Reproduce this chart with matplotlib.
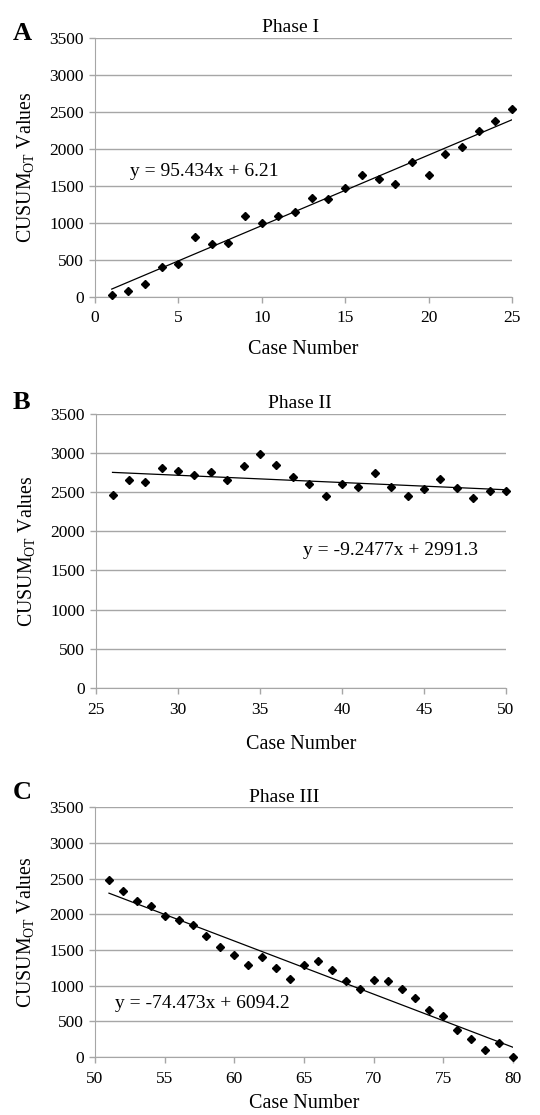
"""
Phase I/II/III CUSUM_OT learning curve, three stacked panels with linear trendlines.
"""

import matplotlib
matplotlib.use("Agg")
import matplotlib.pyplot as plt
import numpy as np

plt.rcParams["font.family"] = ["Liberation Serif", "DejaVu Serif"]
plt.rcParams["mathtext.fontset"] = "custom"
plt.rcParams["mathtext.rm"] = "Liberation Serif"

GRID_GRAY = "#a6a6a6"
Y_TICKS = [0, 500, 1000, 1500, 2000, 2500, 3000, 3500]

# Phase I
cases_1 = list(range(1, 26))
cusum_1 = [23, 81, 172, 406, 438, 804, 709, 727, 1084, 994, 1088, 1143, 1337,
           1319, 1468, 1639, 1585, 1526, 1815, 1644, 1928, 2019, 2244, 2380, 2543]
fit_1 = (95.434, 6.21)
eq_1 = "y = 95.434x + 6.21"

# Phase II
cases_2 = list(range(26, 51))
cusum_2 = [2467, 2650, 2633, 2813, 2766, 2714, 2753, 2655, 2838, 2983, 2842,
           2689, 2603, 2446, 2608, 2565, 2740, 2565, 2446, 2540, 2667, 2548,
           2429, 2510, 2518]
fit_2 = (-9.2477, 2991.3)
eq_2 = "y = -9.2477x + 2991.3"

# Phase III
cases_3 = list(range(51, 81))
cusum_3 = [2474, 2326, 2187, 2113, 1974, 1919, 1854, 1697, 1540, 1429, 1290,
           1401, 1253, 1087, 1290, 1346, 1216, 1068, 957, 1077, 1068, 948, 832,
           652, 569, 384, 254, 102, 190, 0]
fit_3 = (-74.473, 6094.2)
eq_3 = "y = -74.473x + 6094.2"

# letter, title, data, fit, equation, x range/ticks, equation anchor (data),
# axes rect, title x (axes frac), letter y (fig frac), xlabel pad
panels = [
    ("A", "Phase I", cases_1, cusum_1, fit_1, eq_1, (0, 25), [0, 5, 10, 15, 20, 25],
     (2.1, 1690), [0.176, 0.734, 0.772, 0.232], 0.47, 0.970, 10),
    ("B", "Phase II", cases_2, cusum_2, fit_2, eq_2, (25, 50), [25, 30, 35, 40, 45, 50],
     (37.6, 1750), [0.178, 0.383, 0.759, 0.246], 0.498, 0.6386, 12),
    ("C", "Phase III", cases_3, cusum_3, fit_3, eq_3, (50, 80), [50, 55, 60, 65, 70, 75, 80],
     (51.4, 750), [0.176, 0.052, 0.774, 0.224], 0.452, 0.2888, 5),
]

fig = plt.figure(figsize=(5.4, 11.15), dpi=100)
fig.patch.set_facecolor("white")

for (letter, title, xs, ys, (slope, icpt), eq, xlim, xticks, eq_pos, rect,
     title_x, letter_y, xpad) in panels:
    ax = fig.add_axes(rect)
    ax.set_xlim(*xlim)
    ax.set_ylim(0, 3500)
    ax.set_xticks(xticks)
    ax.set_yticks(Y_TICKS)
    ax.yaxis.grid(True, color=GRID_GRAY, linewidth=1)
    ax.set_axisbelow(True)
    for side in ("top", "right"):
        ax.spines[side].set_visible(False)
    for side in ("left", "bottom"):
        ax.spines[side].set_color(GRID_GRAY)
    ax.tick_params(colors=GRID_GRAY, labelcolor="black", labelsize=12.5, length=4, width=1)
    ax.tick_params(axis="x", pad=6)
    ax.tick_params(axis="y", pad=4)

    # trendline straight from the reported fit
    line_x = np.array([xs[0], xs[-1]])
    ax.plot(line_x, slope * line_x + icpt, color="black", linewidth=0.9, zorder=2)
    ax.plot(xs, ys, linestyle="none", marker="D", markersize=4.5, color="black", zorder=3,
            clip_on=False)

    ax.text(eq_pos[0], eq_pos[1], eq, fontsize=14, va="center", ha="left")
    ax.set_title(title, fontsize=14, x=title_x, pad=4)
    ax.set_xlabel("Case Number", fontsize=14.5, labelpad=xpad)
    ax.set_ylabel(r"CUSUM$_{\mathregular{OT}}$ Values", fontsize=14.3, labelpad=9)
    fig.text(0.024, letter_y, letter, fontsize=19, fontweight="bold", ha="left", va="center")

fig.savefig("out.png", dpi=100, facecolor="white")
